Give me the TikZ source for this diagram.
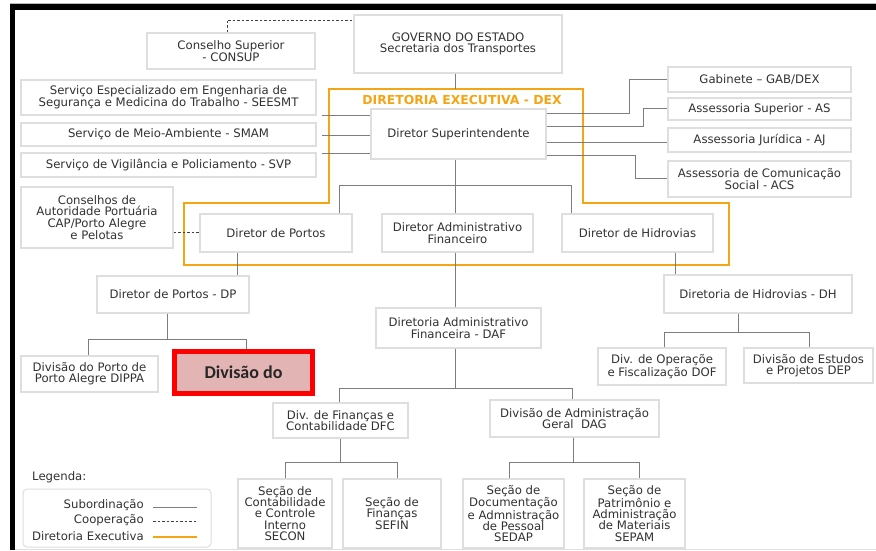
\documentclass[tikz,border=0pt]{standalone}
\usepackage{fontspec}
\setmainfont{DejaVu Sans}
\newfontfamily\redfont{Carlito}
\definecolor{txt}{RGB}{50,50,50}
\definecolor{boxline}{RGB}{222,222,222}
\definecolor{conn}{RGB}{125,125,125}
\definecolor{dexor}{RGB}{245,165,20}
\definecolor{redb}{RGB}{255,0,0}
\definecolor{pinkf}{RGB}{226,180,180}
\begin{document}
\begin{tikzpicture}[x=1pt,y=-1pt,
  box/.style={draw=boxline, line width=1.2pt, fill=white, inner sep=0pt, align=center, text=txt, font=\fontsize{11.7}{11.3}\selectfont},
  legtxt/.style={inner sep=0pt, text=txt, font=\fontsize{11.7}{11.3}\selectfont},
  sub/.style={draw=conn, line width=1pt},
  coop/.style={draw=black!75, line width=0.9pt, dash pattern=on 2.5pt off 2pt},
  dexline/.style={draw=dexor, line width=1.6pt},
]
\useasboundingbox (0,0) rectangle (876,550);
\fill[white] (0,0) rectangle (876,550);
% frame
\draw[gray!55, line width=1pt] (10,3.5) -- (876,3.5);
\fill[black] (10,4) rectangle (876,10);
\fill[black] (10,4) rectangle (15,550);
\draw[gray!25, line width=1pt] (15,549.5) -- (876,549.5);

% orange DEX frame
\coordinate (o1) at (329,89);
\coordinate (o2) at (583,89);
\coordinate (o3) at (583,203);
\coordinate (o4) at (729,203);
\coordinate (o5) at (729,265);
\coordinate (o6) at (184,265);
\coordinate (o7) at (184,203);
\coordinate (o8) at (329,203);
\draw[dexline] (o1) -- (o2) -- (o3) -- (o4) -- (o5) -- (o6) -- (o7) -- (o8) -- cycle;
\node[inner sep=0pt, text=dexor, font=\bfseries\fontsize{12.4}{12}\selectfont] (dexlbl) at (462,100) {DIRETORIA EXECUTIVA - DEX};

% boxes
\node[box, minimum width=168pt, minimum height=36pt] (consup) at (231,51) {Conselho Superior\\- CONSUP};
\node[box, minimum width=208pt, minimum height=58pt] (gov) at (458,44) {GOVERNO DO ESTADO\\Secretaria dos Transportes};
\node[box, minimum width=295pt, minimum height=35pt] (seesmt) at (168.5,97.5) {Serviço Especializado em Engenharia de\\Segurança e Medicina do Trabalho - SEESMT};
\node[box, minimum width=295pt, minimum height=23pt] (smam) at (168.5,134.5) {Serviço de Meio-Ambiente - SMAM};
\node[box, minimum width=295pt, minimum height=24pt] (svp) at (168.5,165) {Serviço de Vigilância e Policiamento - SVP};
\node[box, minimum width=175pt, minimum height=50pt] (sup) at (458.5,134) {Diretor Superintendente};
\node[box, minimum width=183pt, minimum height=25pt] (gab) at (759.5,79.5) {Gabinete – GAB/DEX};
\node[box, minimum width=183pt, minimum height=22pt] (as) at (759.5,109) {Assessoria Superior - AS};
\node[box, minimum width=183pt, minimum height=24pt] (aj) at (759.5,140) {Assessoria Jurídica - AJ};
\node[box, minimum width=183pt, minimum height=36pt] (acs) at (759.5,179) {Assessoria de Comunicação\\Social - ACS};
\node[box, minimum width=152pt, minimum height=61pt] (cap) at (97,217.5) {Conselhos de\\Autoridade Portuária\\CAP/Porto Alegre\\e Pelotas};
\node[box, minimum width=152pt, minimum height=38pt] (dirport) at (276,233) {Diretor de Portos};
\node[box, minimum width=151pt, minimum height=38pt] (diradm) at (457.5,233) {Diretor Administrativo\\Financeiro};
\node[box, minimum width=151pt, minimum height=38pt] (dirhid) at (637.5,233) {Diretor de Hidrovias};
\node[box, minimum width=152pt, minimum height=37pt] (dp) at (173,294.5) {Diretor de Portos - DP};
\node[box, minimum width=188pt, minimum height=38pt] (dh) at (758,294) {Diretoria de Hidrovias - DH};
\node[box, minimum width=165pt, minimum height=40pt] (daf) at (458.5,328) {Diretoria Administrativo\\Financeira - DAF};
\node[box, minimum width=137pt, minimum height=36pt] (dippa) at (89.5,374) {Divisão do Porto de\\Porto Alegre DIPPA};
\node[draw=redb, line width=5pt, fill=pinkf, minimum width=138pt, minimum height=42pt, inner sep=0pt, text=black!85, font=\redfont\bfseries\fontsize{18}{18}\selectfont] (red) at (243.5,372.5) {Divisão do};
\node[box, minimum width=128pt, minimum height=37pt] (dof) at (662,366.5) {Div. de Operaçõe\\e Fiscalização DOF};
\node[box, minimum width=129pt, minimum height=35pt] (dep) at (808.5,365.5) {Divisão de Estudos\\e Projetos DEP};
\node[box, minimum width=135pt, minimum height=35pt] (dfc) at (340.5,420.5) {Div. de Finanças e\\Contabilidade DFC};
\node[box, minimum width=169pt, minimum height=37pt] (dag) at (574.5,418.5) {Divisão de Administração\\Geral\ \ DAG};
\node[box, minimum width=94pt, minimum height=69pt] (secon) at (285,513.5) {Seção de\\Contabilidade\\e Controle\\Interno\\SECON};
\node[box, minimum width=98pt, minimum height=69pt] (sefin) at (392,513.5) {Seção de\\Finanças\\SEFIN};
\node[box, minimum width=101pt, minimum height=69pt] (sedap) at (513.5,513.5) {Seção de\\Documentação\\e Admnistração\\de Pessoal\\SEDAP};
\node[box, minimum width=101pt, minimum height=69pt] (sepam) at (634.5,513.5) {Seção de\\Patrimônio e\\Administração\\de Materiais\\SEPAM};

% cooperation links
\coordinate (c1) at (227,20);
\draw[coop] (consup.north -| c1) -- (c1) -- (gov.west |- c1);
\coordinate (c2) at (186,232);
\draw[coop] (cap.east |- c2) -- (dirport.west |- c2);

% Governo -> DEX
\coordinate (t0) at (455,89);
\draw[sub] (gov.south -| t0) -- (t0);

% Superintendente -> left services
\coordinate (sa) at (322,115);
\coordinate (sb) at (322,135);
\coordinate (sc) at (322,153);
\draw[sub] (sup.west |- sa) -- (sa);
\draw[sub] (sup.west |- sb) -- (sb);
\draw[sub] (sup.west |- sc) -- (sc);

% Superintendente -> right staff
\coordinate (g1) at (629,113);
\coordinate (g2) at (629,79);
\draw[sub] (sup.east |- g1) -- (g1) -- (g2) -- (gab.west |- g2);
\coordinate (a1) at (643,126);
\coordinate (a2) at (643,108);
\draw[sub] (sup.east |- a1) -- (a1) -- (a2) -- (as.west |- a2);
\coordinate (j1) at (600,142);
\draw[sub] (sup.east |- j1) -- (aj.west |- j1);
\coordinate (k1) at (635,155);
\coordinate (k2) at (635,178);
\draw[sub] (sup.east |- k1) -- (k1) -- (k2) -- (acs.west |- k2);

% trunk to directors
\coordinate (t1) at (455,185);
\coordinate (tl) at (339,185);
\coordinate (tr) at (571,185);
\draw[sub] (sup.south -| t1) -- (diradm.north -| t1);
\draw[sub] (tl) -- (tr);
\draw[sub] (tl) -- (dirport.north -| tl);
\draw[sub] (tr) -- (dirhid.north -| tr);

% directors -> directorates
\coordinate (p1) at (237,260);
\draw[sub] (dirport.south -| p1) -- (dp.north -| p1);
\coordinate (h1) at (675,260);
\draw[sub] (dirhid.south -| h1) -- (dh.north -| h1);
\draw[sub] (diradm.south -| t1) -- (daf.north -| t1);

% DP -> divisions
\coordinate (q0) at (167,339);
\coordinate (q1) at (88,339);
\coordinate (q2) at (246,339);
\draw[sub] (dp.south -| q0) -- (q0);
\draw[sub] (dippa.north -| q1) -- (q1) -- (q2) -- (red.north -| q2);

% DH -> divisions
\coordinate (r0) at (738,332);
\coordinate (r1) at (664,332);
\coordinate (r2) at (809,332);
\draw[sub] (dh.south -| r0) -- (r0);
\draw[sub] (dof.north -| r1) -- (r1) -- (r2) -- (dep.north -| r2);

% DAF -> divisions
\coordinate (f0) at (455,388);
\coordinate (f1) at (339,388);
\coordinate (f2) at (572,388);
\draw[sub] (daf.south -| f0) -- (f0);
\draw[sub] (dfc.north -| f1) -- (f1) -- (f2) -- (dag.north -| f2);

% DFC -> sections
\coordinate (d0) at (340,462);
\coordinate (d1) at (285,462);
\coordinate (d2) at (397,462);
\draw[sub] (dfc.south -| d0) -- (d0);
\draw[sub] (secon.north -| d1) -- (d1) -- (d2) -- (sefin.north -| d2);

% DAG -> sections
\coordinate (e0) at (573,462);
\coordinate (e1) at (509,462);
\coordinate (e2) at (639,462);
\draw[sub] (dag.south -| e0) -- (e0);
\draw[sub] (sedap.north -| e1) -- (e1) -- (e2) -- (sepam.north -| e2);

% legend
\node[legtxt, anchor=west] (legtitle) at (32,477) {Legenda:};
\node[draw=boxline, line width=1pt, rounded corners=4pt, minimum width=188pt, minimum height=58pt, inner sep=0pt] (legbox) at (117,518) {};
\node[legtxt, anchor=east] (l1) at (144,505) {Subordinação};
\node[legtxt, anchor=east] (l2) at (144,520) {Cooperação};
\node[legtxt, anchor=east] (l3) at (144,536) {Diretoria Executiva};
\coordinate (m1a) at (153,507); \coordinate (m1b) at (197,507);
\coordinate (m2a) at (153,521); \coordinate (m2b) at (197,521);
\coordinate (m3a) at (153,537); \coordinate (m3b) at (197,537);
\draw[sub] (m1a) -- (m1b);
\draw[coop] (m2a) -- (m2b);
\draw[dexline] (m3a) -- (m3b);
\end{tikzpicture}
\end{document}
